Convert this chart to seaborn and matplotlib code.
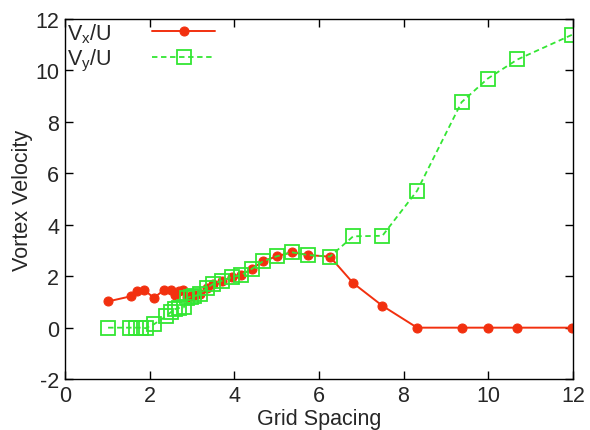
import numpy as np
import pandas as pd
import seaborn as sns
import matplotlib.pyplot as plt

# Vx/U series (red, filled circles)
vx_spacing = [1.02, 1.56, 1.71, 1.87, 2.10, 2.35, 2.50, 2.61, 2.69, 2.79,
              2.88, 2.97, 3.06, 3.19, 3.35, 3.50, 3.70, 3.94, 4.17, 4.41,
              4.68, 5.00, 5.36, 5.75, 6.26, 6.81, 7.50, 8.32, 9.37, 9.99,
              10.69, 11.98]
vx_velocity = [1.02, 1.22, 1.41, 1.47, 1.16, 1.47, 1.47, 1.28, 1.41, 1.47,
               1.20, 1.24, 1.27, 1.31, 1.54, 1.70, 1.82, 1.96, 2.05, 2.28,
               2.58, 2.77, 2.93, 2.82, 2.76, 1.73, 0.85, 0.0, 0.0, 0.0,
               0.0, 0.0]

# Vy/U series (green, open squares)
vy_spacing = [1.02, 1.54, 1.67, 1.80, 1.91, 2.11, 2.39, 2.50, 2.60, 2.69,
              2.81, 2.88, 2.97, 3.06, 3.19, 3.35, 3.50, 3.70, 3.94, 4.17,
              4.41, 4.68, 5.00, 5.36, 5.75, 6.26, 6.81, 7.50, 8.32, 9.37,
              9.99, 10.69, 11.98]
vy_velocity = [0.0, 0.0, 0.0, 0.0, -0.02, 0.14, 0.44, 0.60, 0.72, 0.76,
               0.79, 1.15, 1.20, 1.22, 1.31, 1.54, 1.70, 1.82, 1.96, 2.05,
               2.28, 2.58, 2.77, 2.93, 2.82, 2.76, 3.55, 3.57, 5.32, 8.76,
               9.68, 10.42, 11.38]

x_ticks = [0, 2, 4, 6, 8, 10, 12]
y_ticks = [-2, 0, 2, 4, 6, 8, 10, 12]

sns.set_style('ticks')
plt.rcParams['font.family'] = ['Liberation Sans', 'DejaVu Sans']
plt.rcParams['mathtext.fontset'] = 'custom'
plt.rcParams['mathtext.rm'] = 'Liberation Sans'
plt.rcParams['mathtext.it'] = 'Liberation Sans'
plt.rcParams['axes.unicode_minus'] = False

df_x = pd.DataFrame({'spacing': vx_spacing, 'velocity': vx_velocity})
df_y = pd.DataFrame({'spacing': vy_spacing, 'velocity': vy_velocity})

fig = plt.figure(figsize=(5.9, 4.31), dpi=100)
ax = fig.add_axes([0.110, 0.118, 0.861, 0.836])

red = '#f2300f'
green = '#33e633'
fs = 15.5

sns.lineplot(data=df_x, x='spacing', y='velocity', ax=ax, color=red,
             linewidth=1.4, marker='o', markersize=6.5, markeredgecolor=red,
             markerfacecolor=red, label=r'$\mathregular{V_x/U}$')
sns.lineplot(data=df_y, x='spacing', y='velocity', ax=ax, color=green,
             linewidth=1.3, linestyle=(0, (3, 2)), marker='s', markersize=9.5,
             markeredgecolor=green, markerfacecolor='none', markeredgewidth=1.3,
             label=r'$\mathregular{V_y/U}$')

ax.set_xlim(0, 12)
ax.set_ylim(-2, 12)
ax.set_xticks(x_ticks)
ax.set_yticks(y_ticks)
ax.tick_params(direction='in', length=6, width=1, top=True, right=True,
               labelsize=fs, pad=4, color='black')
for s in ax.spines.values():
    s.set_linewidth(1)
    s.set_color('black')

ax.set_xlabel('Grid Spacing', fontsize=fs, labelpad=2)
ax.set_ylabel('Vortex Velocity', fontsize=fs, labelpad=2)

ax.legend(loc='upper left', frameon=False, markerfirst=False, fontsize=fs,
          handlelength=2.9, borderaxespad=0.0, labelspacing=0.1,
          handletextpad=1.9, borderpad=0.1)

fig.savefig('out.png', dpi=100)
